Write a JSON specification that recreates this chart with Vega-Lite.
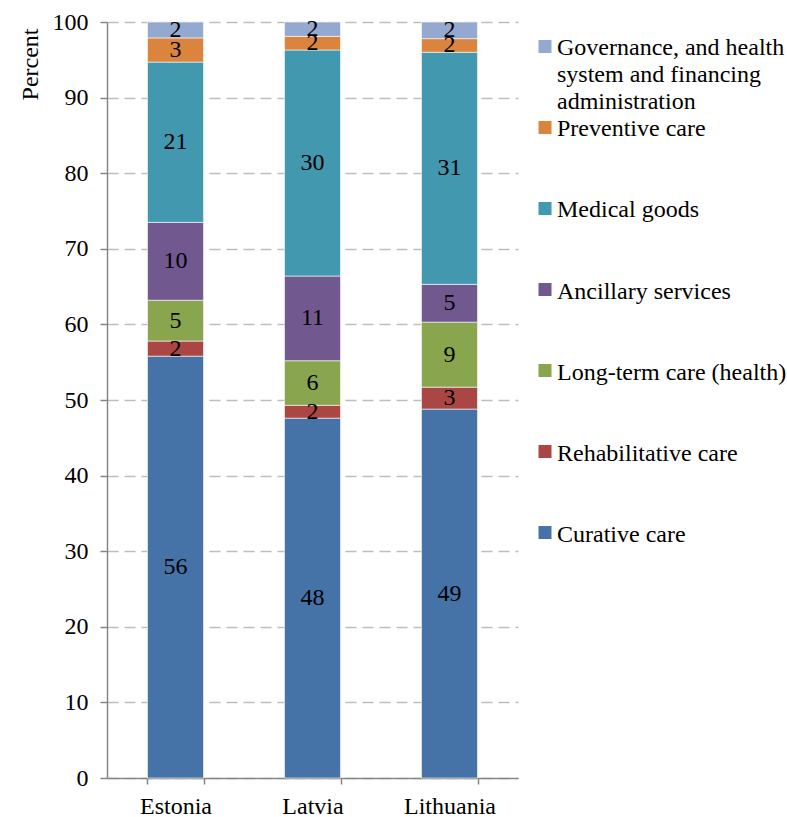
{
  "$schema": "https://vega.github.io/schema/vega-lite/v6.json",
  "background": "white",
  "padding": {"left": 18, "top": 10, "right": 0, "bottom": 0},
  "config": {
    "font": "Liberation Serif",
    "view": {"stroke": null},
    "axis": {"labelFont": "Liberation Serif", "titleFont": "Liberation Serif"},
    "text": {"font": "Liberation Serif"},
    "style": {
      "guide-label": {"font": "Liberation Serif"},
      "guide-title": {"font": "Liberation Serif"}
    }
  },
  "datasets": {
    "spending": [
      {"country": "Estonia", "category": "Curative care", "share": 55.8},
      {"country": "Estonia", "category": "Rehabilitative care", "share": 2.0},
      {"country": "Estonia", "category": "Long-term care (health)", "share": 5.4},
      {"country": "Estonia", "category": "Ancillary services", "share": 10.3},
      {"country": "Estonia", "category": "Medical goods", "share": 21.2},
      {"country": "Estonia", "category": "Preventive care", "share": 3.2},
      {"country": "Estonia", "category": "Governance, and health system and financing administration", "share": 2.1},
      {"country": "Latvia", "category": "Curative care", "share": 47.6},
      {"country": "Latvia", "category": "Rehabilitative care", "share": 1.7},
      {"country": "Latvia", "category": "Long-term care (health)", "share": 5.9},
      {"country": "Latvia", "category": "Ancillary services", "share": 11.2},
      {"country": "Latvia", "category": "Medical goods", "share": 29.9},
      {"country": "Latvia", "category": "Preventive care", "share": 1.8},
      {"country": "Latvia", "category": "Governance, and health system and financing administration", "share": 1.9},
      {"country": "Lithuania", "category": "Curative care", "share": 48.8},
      {"country": "Lithuania", "category": "Rehabilitative care", "share": 2.9},
      {"country": "Lithuania", "category": "Long-term care (health)", "share": 8.6},
      {"country": "Lithuania", "category": "Ancillary services", "share": 5.0},
      {"country": "Lithuania", "category": "Medical goods", "share": 30.7},
      {"country": "Lithuania", "category": "Preventive care", "share": 1.8},
      {"country": "Lithuania", "category": "Governance, and health system and financing administration", "share": 2.2}
    ],
    "legend": [
      {"category": "Governance, and health system and financing administration", "label": "Governance, and health\nsystem and financing\nadministration"},
      {"category": "Preventive care", "label": "Preventive care"},
      {"category": "Medical goods", "label": "Medical goods"},
      {"category": "Ancillary services", "label": "Ancillary services"},
      {"category": "Long-term care (health)", "label": "Long-term care (health)"},
      {"category": "Rehabilitative care", "label": "Rehabilitative care"},
      {"category": "Curative care", "label": "Curative care"}
    ]
  },
  "bounds": "flush",
  "spacing": 27,
  "hconcat": [
    {
      "width": 411,
      "height": 756,
      "data": {"name": "spending"},
      "transform": [
        {"calculate": "indexof(['Curative care', 'Rehabilitative care', 'Long-term care (health)', 'Ancillary services', 'Medical goods', 'Preventive care', 'Governance, and health system and financing administration'], datum.category)", "as": "stackOrder"}
      ],
      "encoding": {
        "x": {
          "field": "country",
          "type": "nominal",
          "scale": {"paddingInner": 0.591, "paddingOuter": 0.2955},
          "axis": {
            "title": null,
            "labelAngle": 0,
            "tickBand": "extent",
            "labelFont": "Liberation Serif",
            "labelFontSize": 24,
            "labelColor": "black",
            "labelPadding": 10,
            "tickSize": 6,
            "domainColor": "#868686",
            "tickColor": "#868686",
            "domainWidth": 1.5,
            "tickWidth": 1.5,
            "grid": false
          }
        },
        "y": {
          "field": "share",
          "type": "quantitative",
          "stack": "zero",
          "title": "Percent",
          "scale": {"domain": [0, 100], "nice": false},
          "axis": {
            "titleAnchor": "end",
            "titleY": 6,
            "titleFont": "Liberation Serif",
            "titleFontSize": 24,
            "titleFontWeight": "normal",
            "titleColor": "black",
            "titlePadding": 10,
            "values": [0, 10, 20, 30, 40, 50, 60, 70, 80, 90, 100],
            "labelFont": "Liberation Serif",
            "labelFontSize": 24,
            "labelColor": "black",
            "labelPadding": 12,
            "tickSize": 7,
            "grid": true,
            "gridDash": [11, 6],
            "gridColor": "#BEBEBE",
            "gridWidth": 1.3,
            "domainColor": "#868686",
            "tickColor": "#868686",
            "domainWidth": 1.5,
            "tickWidth": 1.5
          }
        },
        "order": {"field": "stackOrder", "type": "quantitative", "sort": "ascending"},
        "color": {
          "field": "category",
          "type": "nominal",
          "scale": {
            "domain": ["Curative care", "Rehabilitative care", "Long-term care (health)", "Ancillary services", "Medical goods", "Preventive care", "Governance, and health system and financing administration"],
            "range": ["#4572A7", "#AA4643", "#89A54E", "#71588F", "#4198AF", "#DB843D", "#93A9CF"]
          },
          "legend": null
        }
      },
      "layer": [
        {"mark": {"type": "bar", "stroke": "white", "strokeWidth": 0.6}},
        {
          "mark": {"type": "text", "font": "Liberation Serif", "fontSize": 24, "baseline": "middle", "align": "center"},
          "encoding": {
            "y": {"field": "share", "type": "quantitative", "stack": "zero", "bandPosition": 0.5, "title": "Percent"},
            "text": {"field": "share", "type": "quantitative", "format": ".0f"},
            "fill": {"value": "black"}
          }
        }
      ]
    },
    {
      "width": 240,
      "height": 535,
      "data": {"name": "legend"},
      "encoding": {
        "y": {"field": "category", "type": "nominal", "sort": null, "scale": {"type": "point", "padding": 0.302}, "axis": null},
        "x": {"datum": 0, "type": "quantitative", "scale": {"domain": [0, 1]}, "axis": null}
      },
      "layer": [
        {
          "mark": {"type": "square", "size": 169, "opacity": 1, "filled": true},
          "encoding": {
            "color": {
              "field": "category",
              "type": "nominal",
              "scale": {
                "domain": ["Curative care", "Rehabilitative care", "Long-term care (health)", "Ancillary services", "Medical goods", "Preventive care", "Governance, and health system and financing administration"],
                "range": ["#4572A7", "#AA4643", "#89A54E", "#71588F", "#4198AF", "#DB843D", "#93A9CF"]
              },
              "legend": null
            }
          }
        },
        {
          "mark": {"type": "text", "font": "Liberation Serif", "align": "left", "baseline": "top", "dx": 12, "dy": -10, "fontSize": 24, "lineBreak": "\n", "lineHeight": 27, "color": "black"},
          "encoding": {"text": {"field": "label", "type": "nominal"}}
        }
      ]
    }
  ]
}
